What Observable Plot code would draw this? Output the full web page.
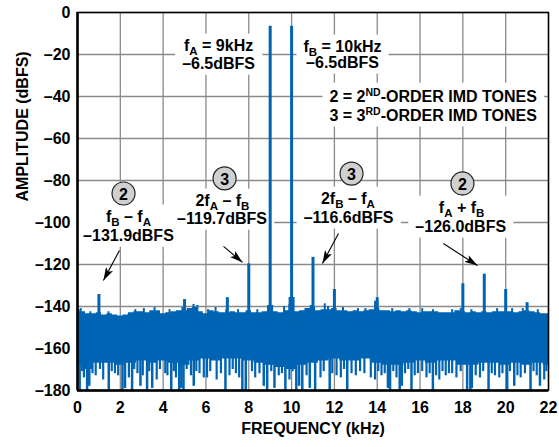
<!DOCTYPE html>
<html><head><meta charset="utf-8">
<script src="https://cdn.jsdelivr.net/npm/d3@7"></script>
<script src="https://cdn.jsdelivr.net/npm/@observablehq/plot@0.6"></script>
<style>
html,body{margin:0;padding:0;background:#fff}
#chart svg{font-family:"Liberation Sans",Arial,Helvetica,sans-serif;font-size:16px;font-weight:bold;color:#000}
</style></head><body><div id="chart"></div>
<script>
const BLUE = "#0064b4";
const xTicks = [0,2,4,6,8,10,12,14,16,18,20,22];
const yTicks = [0,-20,-40,-60,-80,-100,-120,-140,-160,-180];

// tones and spurs (kHz, dBFS)
const toneFreq = [1,5,7,8,9,10,11,12,14,18,19,20,21];
const toneDb = [-134.3,-136.7,-135.8,-119.7,-6.5,-6.5,-116.6,-131.9,-135.8,-129.2,-124.6,-131.9,-138.2];
// widened skirts at the base of the main tones
const skirtFreq = [9,10];
const skirtDb = [-139.5,-135.7];

// noise floor: top edge
const topFreq = [0,0.25,0.5,0.75,1,1.25,1.5,1.75,2,2.25,2.5,2.75,3,3.25,3.5,3.75,4,4.25,4.5,4.75,5,5.25,5.5,5.75,6,6.25,6.5,6.75,7,7.25,7.5,7.75,8,8.25,8.5,8.75,9,9.25,9.5,9.75,10,10.25,10.5,10.75,11,11.25,11.5,11.75,12,12.25,12.5,12.75,13,13.25,13.5,13.75,14,14.25,14.5,14.75,15,15.25,15.5,15.75,16,16.25,16.5,16.75,17,17.25,17.5,17.75,18,18.25,18.5,18.75,19,19.25,19.5,19.75,20,20.25,20.5,20.75,21,21.25,21.5,21.75,22];
const topDb = [-141.5,-142.5,-143.5,-143.5,-143,-144,-143.5,-144,-144.5,-144,-143,-142.5,-142.5,-143,-142,-142,-143.5,-143,-142.5,-142,-142,-141,-140.5,-142.5,-143.5,-142,-142.5,-143,-143,-142.5,-143,-143,-142,-143,-143,-142.5,-140,-142.5,-143,-142,-139,-142.5,-142,-141,-140.5,-142,-141.5,-141.5,-141,-142,-142,-142.5,-142,-142.5,-142,-141.5,-141,-142,-142,-142.5,-142,-142.5,-142,-142.5,-143,-142.5,-142.5,-142.5,-143,-143,-143,-142,-142.5,-143,-142.5,-143,-142.5,-143,-142.5,-142.5,-142.5,-142.5,-143,-142.5,-142,-142.5,-143,-143.5,-143.5];
// small bumps above the noise floor
const grassFreq = [0.15,0.6,1.45,2.7,3.1,3.6,4.3,4.9,5.42,5.6,6.1,6.45,6.95,7.5,8.4,9.65,10.9,11.55,11.7,12.4,13.1,13.45,13.9,14.7,15.5,16.1,16.6,17.5,17.9,18.4,19.6,20.3,20.8,21.5];
const grassDb = [-141,-142.5,-142.5,-141.5,-141,-140.5,-141.5,-140.5,-139,-139.5,-141.5,-140.5,-141.5,-141.5,-141.5,-140,-139.5,-138.7,-140,-140.5,-141,-141,-137.5,-141,-141,-141,-141.5,-141.5,-141,-141.5,-141,-141,-141,-141.5];

// noise floor: lower edge of the dense body
const botFreq = [0,0.5,1,1.5,2,2.5,3,3.5,4,4.5,5,5.5,6,6.5,7,7.5,8,8.5,9,9.5,10,10.5,11,11.5,12,12.5,13,13.5,14,14.5,15,15.5,16,16.5,17,17.5,18,18.5,19,19.5,20,20.5,21,21.5,22];
const botDb = [-168,-170,-167,-167,-168,-167,-166,-167,-166,-167,-168,-166,-165,-166,-165,-165,-166,-167,-168,-169,-170,-168,-167,-166,-165,-166,-166,-165,-167,-168,-168,-167,-166,-167,-166,-166,-168,-168,-167,-167,-168,-167,-168,-167,-168];
// deep nulls in the noise
const dipFreq = [0.1,0.45,0.55,1.46,2.1,2.22,2.55,2.94,3.25,3.49,4.38,4.75,4.85,4.95,5.43,6.91,7.7,7.86,8.7,8.86,9.2,9.71,10.22,10.35,10.5,10.85,11.1,11.78,12.6,14.5,14.6,15.05,15.15,15.6,16.6,18.2,18.35,18.42,19.2,20.07,20.4,21.16,21.6];
const dipDb = [-180,-180,-178,-180,-180,-179,-180,-178,-180,-179,-180,-180,-179,-180,-178,-180,-180,-180,-178,-180,-179,-180,-180,-178,-180,-179,-180,-180,-180,-179,-180,-180,-178,-180,-180,-180,-180,-179,-180,-180,-178,-180,-178];
// shallower nulls
const midFreq = [0.2,0.3,0.7,0.85,1.05,1.2,1.6,1.75,1.9,2.4,2.65,2.8,3.05,3.35,3.7,3.85,4.1,4.2,4.5,4.6,5.1,5.3,5.55,5.7,5.9,6.05,6.2,6.5,6.7,7.1,7.25,7.4,7.55,8.15,8.3,8.5,9.05,9.4,9.55,9.9,10.05,10.7,11.35,11.5,11.9,12.1,12.3,12.45,12.8,13.0,13.2,13.4,13.7,13.9,14.05,14.2,14.35,14.75,14.9,15.3,15.45,15.75,15.9,16.1,16.3,16.45,16.75,16.9,17.05,17.2,17.35,17.5,17.7,17.9,18.6,18.8,18.95,19.35,19.5,19.7,19.85,20.2,20.55,20.7,20.9,21.3,21.45,21.8,21.9];
const midDb = [-171,-174,-172,-173,-170,-175,-171,-172,-173,-174,-170,-172,-173,-171,-175,-170,-172,-173,-171,-174,-170,-173,-171,-172,-174,-174,-171,-175,-172,-173,-170,-172,-174,-171,-174,-172,-171,-173,-172,-175,-171,-173,-174,-171,-172,-173,-174,-170,-172,-173,-171,-172,-174,-175,-171,-173,-172,-171,-174,-172,-170,-173,-172,-171,-174,-172,-173,-175,-171,-173,-172,-172,-174,-171,-173,-174,-171,-172,-173,-174,-172,-171,-173,-174,-172,-171,-173,-175,-171];

// annotation text lines
const labelText = ["f_{A} = 9kHz","–6.5dBFS","f_{B} = 10kHz","–6.5dBFS","2 = 2^{ND}-ORDER IMD TONES","3 = 3^{RD}-ORDER IMD TONES","f_{B} – f_{A}","–131.9dBFS","2f_{A} – f_{B}","–119.7dBFS","2f_{B} – f_{A}","–116.6dBFS","f_{A} + f_{B}","–126.0dBFS"];
const labelX = [6.59,6.59,12.38,12.38,11.77,11.77,2.38,2.38,6.77,6.75,12.63,12.66,17.94,17.9];
const labelY = [-15.7,-24.3,-16.2,-23.8,-40,-49,-97.1,-106.2,-89.5,-98.1,-88.6,-97.6,-92.9,-101.9];
const labelAnchor = ["middle","middle","middle","middle","start","start","middle","middle","middle","middle","middle","middle","middle","middle"];
const labelGroup = [0,0,1,1,2,2,3,3,4,4,5,5,6,6];

// circled order markers
const circX = [2.15,6.87,12.80,17.98];
const circY = [-86.2,-79.0,-76.7,-81.4];
const circLabel = ["2","3","3","2"];

// arrows
const arrowX1 = [1.96,6.82,12.19,17.09];
const arrowY1 = [-113.3,-111.4,-105.2,-110];
const arrowX2 = [1.21,7.71,11.44,18.68];
const arrowY2 = [-127.6,-119.0,-119.5,-120.5];

const tones = toneFreq.map((f,i)=>({f, db: toneDb[i]}));
const skirts = skirtFreq.map((f,i)=>({f, db: skirtDb[i]}));
const topEdge = topFreq.map((f,i)=>({f, db: topDb[i]}));
const grass = grassFreq.map((f,i)=>({f, db: grassDb[i]}));
const botEdge = botFreq.map((f,i)=>({f, db: botDb[i]}));
const dips = dipFreq.map((f,i)=>({f, db: dipDb[i]}));
const mids = midFreq.map((f,i)=>({f, db: midDb[i]}));
const labels = labelText.map((t,i)=>({t, x: labelX[i], y: labelY[i], a: labelAnchor[i], g: labelGroup[i]}));
const labelsMid = labels.filter(d => d.a === "middle");
const labelsStart = labels.filter(d => d.a === "start");
const circles = circX.map((x,i)=>({x, y: circY[i], t: circLabel[i]}));
const arrows = arrowX1.map((x,i)=>({x1: x, y1: arrowY1[i], x2: arrowX2[i], y2: arrowY2[i]}));

const plot = Plot.plot({
  width: 559, height: 447,
  marginLeft: 77, marginRight: 11, marginTop: 12, marginBottom: 57,
  style: {background: "white", fontSize: "16px", fontWeight: "bold"},
  x: {domain: [0,22], ticks: xTicks, tickSize: 0, tickPadding: 11, label: null, tickFormat: d => String(d)},
  y: {domain: [-180,0], ticks: yTicks, tickSize: 0, tickPadding: 7, label: null, tickFormat: d => d < 0 ? "–" + (-d) : String(d)},
  marks: [
    Plot.ruleX(xTicks, {stroke: "#8a8a8a", strokeWidth: 1.3}),
    Plot.ruleY(yTicks, {stroke: "#8a8a8a", strokeWidth: 1.3}),
    Plot.areaY(topEdge, {x: "f", y1: -156, y2: "db", fill: BLUE, curve: "step"}),
    Plot.areaY(botEdge, {x: "f", y1: "db", y2: -150, fill: BLUE, curve: "step"}),
    Plot.ruleX(mids, {x: "f", y1: -163, y2: "db", stroke: BLUE, strokeWidth: 2.2}),
    Plot.ruleX(dips, {x: "f", y1: -163, y2: "db", stroke: BLUE, strokeWidth: 2.5}),
    Plot.ruleX(grass, {x: "f", y1: -150, y2: "db", stroke: BLUE, strokeWidth: 2}),
    Plot.ruleX(skirts, {x: "f", y1: -150, y2: "db", stroke: BLUE, strokeWidth: 6}),
    Plot.ruleX(tones, {x: "f", y1: -150, y2: "db", stroke: BLUE, strokeWidth: 3}),
    Plot.frame({stroke: "black", strokeWidth: 1.5}),
    Plot.ruleX([0], {stroke: "black", strokeWidth: 2.5}),
    Plot.ruleY([-180], {stroke: "black", strokeWidth: 2.5}),
    Plot.link(arrows, {x1: "x1", y1: "y1", x2: "x2", y2: "y2", stroke: "black", strokeWidth: 1.1}),
    Plot.dot(circles, {x: "x", y: "y", r: 11.5, fill: "#d0d0d0", stroke: "#222", strokeWidth: 1.2}),
    Plot.text(circles, {x: "x", y: "y", text: "t", fontSize: 16, fontWeight: "bold", fill: "black", dy: 1}),
    Plot.text(labelsMid, {x: "x", y: "y", text: "t", textAnchor: "middle", fontSize: 16, fontWeight: "bold", fill: "black", lineAnchor: "middle"}),
    Plot.text(labelsStart, {x: "x", y: "y", text: "t", textAnchor: "start", fontSize: 16, fontWeight: "bold", fill: "black", lineAnchor: "middle"}),
    Plot.text(["FREQUENCY (kHz)"], {frameAnchor: "bottom", dy: 43, fontSize: 16, fontWeight: "bold", fill: "black"}),
    Plot.text(["AMPLITUDE (dBFS)"], {frameAnchor: "left", dx: -55, rotate: -90, fontSize: 16, fontWeight: "bold", fill: "black"})
  ]
});
document.getElementById("chart").appendChild(plot);

// --- post-processing: rich text (sub/superscripts), label backgrounds, filled arrowheads
const svg = d3.select(plot);
const textGroups = plot.querySelectorAll('g[aria-label="text"]');
const labelNodes = Array.from(textGroups[1].querySelectorAll("text")).concat(Array.from(textGroups[2].querySelectorAll("text")));
const labelData = labelsMid.concat(labelsStart);
labelNodes.forEach(node => {
  const s = node.textContent;
  if (!/[_^]\{/.test(s)) return;
  node.textContent = "";
  const re = /([_^])\{([^}]*)\}/g;
  let last = 0, m, shift = 0;
  const add = (str, size, dy) => {
    const t = document.createElementNS("http://www.w3.org/2000/svg", "tspan");
    t.textContent = str;
    if (size) t.setAttribute("font-size", size);
    if (dy) t.setAttribute("dy", dy);
    node.appendChild(t);
  };
  while ((m = re.exec(s))) {
    if (m.index > last) { add(s.slice(last, m.index), null, shift ? -shift : 0); shift = 0; }
    const d = m[1] === "_" ? 4 : -6;
    add(m[2], m[1] === "_" ? 11.5 : 10.5, d - shift);
    shift = d;
    last = re.lastIndex;
  }
  if (last < s.length) add(s.slice(last), null, shift ? -shift : 0);
});

// white boxes behind annotation blocks (in svg coordinates)
const svgRect = plot.getBoundingClientRect();
const boxes = {};
labelNodes.forEach((node, i) => {
  const r = node.getBoundingClientRect();
  const b = {x0: r.left - svgRect.left, y0: r.top - svgRect.top, x1: r.right - svgRect.left, y1: r.bottom - svgRect.top};
  const g = labelData[i].g;
  if (!boxes[g]) boxes[g] = b;
  else {
    const o = boxes[g];
    o.x0 = Math.min(o.x0, b.x0); o.y0 = Math.min(o.y0, b.y0);
    o.x1 = Math.max(o.x1, b.x1); o.y1 = Math.max(o.y1, b.y1);
  }
});
const firstArea = plot.querySelector('g[aria-label="area"]');
const bg = document.createElementNS("http://www.w3.org/2000/svg", "g");
firstArea.parentNode.insertBefore(bg, firstArea);
Object.values(boxes).forEach(o => {
  d3.select(bg).append("rect")
    .attr("x", o.x0 - 7).attr("y", o.y0 - 3)
    .attr("width", o.x1 - o.x0 + 14).attr("height", o.y1 - o.y0 + 6)
    .attr("fill", "white");
});

// filled arrowheads
const defs = svg.append("defs");
defs.append("marker").attr("id", "ahead")
  .attr("viewBox", "0 0 13 8").attr("refX", 13).attr("refY", 4)
  .attr("markerWidth", 13).attr("markerHeight", 8)
  .attr("markerUnits", "userSpaceOnUse").attr("orient", "auto")
  .append("path").attr("d", "M0,0L13,4L0,8L3,4Z").attr("fill", "black");
svg.selectAll('g[aria-label="link"] path').attr("marker-end", "url(#ahead)");
</script></body></html>
